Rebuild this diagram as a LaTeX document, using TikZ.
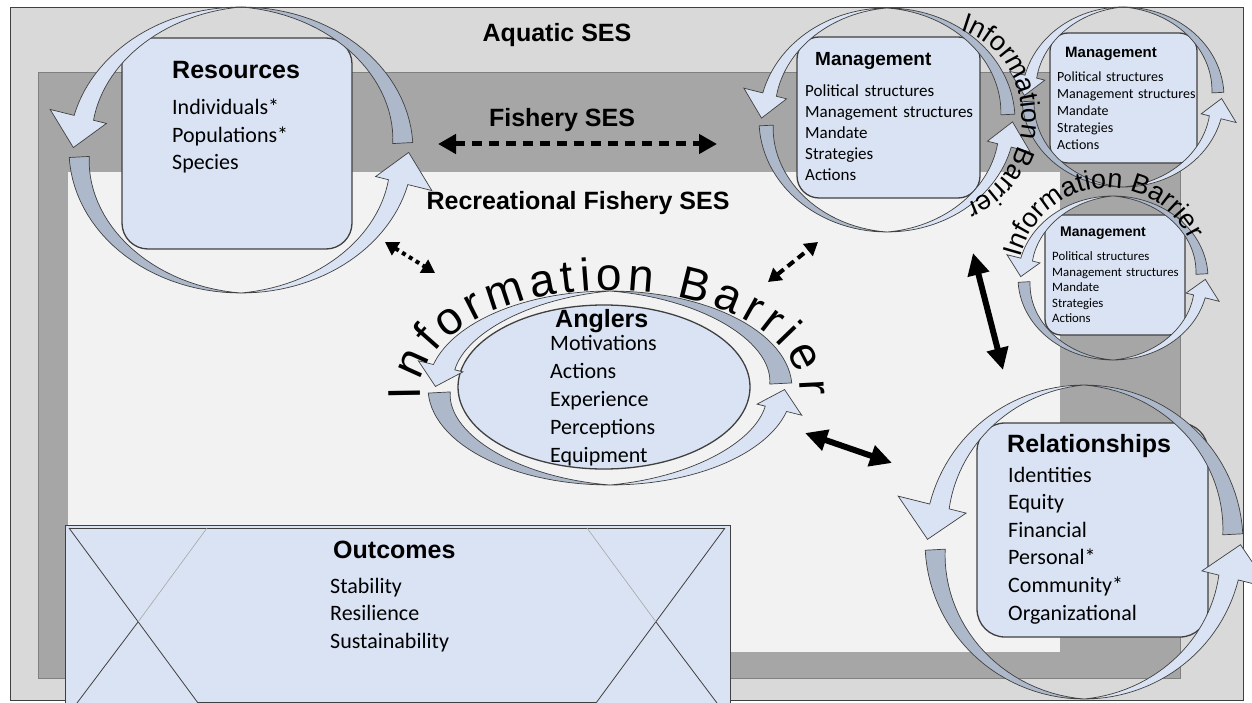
\documentclass[tikz,border=0pt]{standalone}
\usepackage{fontspec}
\setmainfont{Carlito}
\newfontfamily\arialfont{Liberation Sans}
\usepackage{tikz}
\usetikzlibrary{shapes.geometric}
\usetikzlibrary{arrows.meta}
\usetikzlibrary{decorations.text}
\definecolor{aquagray}{RGB}{217,217,217}
\definecolor{fishgray}{RGB}{166,166,166}
\definecolor{recwhite}{RGB}{242,242,242}
\definecolor{boxfill}{RGB}{218,227,243}
\definecolor{ringgray}{RGB}{173,185,202}
\definecolor{edgegray}{RGB}{64,64,64}
\tikzset{
	sysbox/.style={draw=edgegray, fill=boxfill, line width=1.3pt, inner sep=0pt},
	ringback/.style={fill=ringgray, draw=edgegray, line width=0.7pt},
	ringfront/.style={fill=boxfill, draw=edgegray, line width=0.7pt},
	sestitle/.style={anchor=base, inner sep=0pt, font=\arialfont\bfseries\fontsize{25}{30}\selectfont},
	boxtitle/.style={anchor=base west, inner sep=0pt, font=\arialfont\bfseries\fontsize{#1}{#1}\selectfont},
	itemlist/.style n args={3}{anchor=base west, inner sep=0pt, text width=#3, align=left, font=\fontsize{#1}{#2}\selectfont},
	barrier/.style={decorate, decoration={text along path, text={|\arialfont\fontsize{#1}{#1}\selectfont|Information Barrier}, text align=center}},
	dashlink/.style={line width=5pt, dash pattern=on 10pt off 7pt, {Triangle[length=18pt,width=19pt]}-{Triangle[length=18pt,width=19pt]}},
	dotlink/.style={line width=4pt, dash pattern=on 4pt off 4pt, {Triangle[length=13pt,width=15pt]}-{Triangle[length=13pt,width=15pt]}},
	solidlink/.style={line width=6pt, {Triangle[length=22pt,width=21pt]}-{Triangle[length=22pt,width=21pt]}}
}
% circular arrow pair round a box: centre x, centre y, radius x, radius y, band width, head overhang
\newcommand{\ringarrow}[6]{%
	\foreach \s in {0,180}{%
		\filldraw[ringback]
			plot[domain=\s+3:\s+90, samples=30] ({#1+#3*cos(\x)},{#2-#4*sin(\x)})
			-- plot[domain=\s+90:\s+3, samples=30] ({#1+(#3-#5*(\s+90-\x)/87)*cos(\x)},{#2-(#4-#5*(\s+90-\x)/87)*sin(\x)})
			-- cycle;
		\filldraw[ringfront]
			plot[domain=\s+90:\s+166, samples=30] ({#1+#3*cos(\x)},{#2-#4*sin(\x)})
			-- ({#1+(#3+1.3*#6)*cos(\s+166)},{#2-(#4+1.3*#6)*sin(\s+166)})
			-- ({#1+(#3-#5/2+0.3*#6)*cos(\s+179)},{#2-(#4-#5/2+0.3*#6)*sin(\s+179)})
			-- ({#1+(#3-#5-0.7*#6)*cos(\s+166)},{#2-(#4-#5-0.7*#6)*sin(\s+166)})
			-- plot[domain=\s+166:\s+90, samples=30] ({#1+(#3-#5*(\x-\s-90)/76)*cos(\x)},{#2-(#4-#5*(\x-\s-90)/76)*sin(\x)})
			-- cycle;
	}%
}

\begin{document}
\begin{tikzpicture}[x=1pt, y=-1pt]
	\useasboundingbox (0,0) rectangle (1252,703);
	\fill[white] (0,0) rectangle (1252,703);

	% nested SES frames
	\filldraw[fill=aquagray, draw=edgegray, line width=1pt] (10,8) rectangle (1243,700);
	\filldraw[fill=fishgray, draw=gray, line width=0.6pt] (38,72) rectangle (1180,678);
	\fill[recwhite] (68,172) rectangle (1060,652);

	\node[sestitle] (aquatic) at (557,42) {Aquatic SES};
	\node[sestitle] (fishery) at (562,127) {Fishery SES};
	\node[sestitle] (recreational) at (578,210) {Recreational Fishery SES};

	% outcomes panel
	\node[sysbox, line width=1pt, minimum width=665pt, minimum height=182pt] (outcomes) at (397.5,616) {};
	\draw[edgegray, line width=0.8pt] (69,528) -- (725,528);
	\draw[edgegray, line width=0.8pt] (69,528) -- (198,703);
	\draw[gray!70, line width=0.6pt] (207,528) -- (138,622);
	\draw[edgegray, line width=0.8pt] (138,622) -- (77,703);
	\draw[edgegray, line width=0.8pt] (725,528) -- (596,703);
	\draw[gray!70, line width=0.6pt] (587,528) -- (656,622);
	\draw[edgegray, line width=0.8pt] (656,622) -- (717,703);
	\draw[edgegray, line width=0.8pt] (198,702) -- (596,702);
	\node[boxtitle=25] (outtitle) at (333,558) {Outcomes};
	\node[itemlist={22}{27.5}{135pt}] (outitems) at (330,593) {Stability\\Resilience\\Sustainability};

	% system boxes
	\node[sysbox, minimum width=230pt, minimum height=211pt, rounded corners=26pt] (resources) at (237,143.5) {};
	\node[sysbox, minimum width=183pt, minimum height=161pt, rounded corners=22pt] (mgmt) at (888.5,117.5) {};
	\node[sysbox, minimum width=147pt, minimum height=130pt, rounded corners=18pt] (mgmtA) at (1123.5,98) {};
	\node[sysbox, minimum width=140pt, minimum height=120pt, rounded corners=16pt] (mgmtB) at (1115,275) {};
	\node[sysbox, minimum width=231pt, minimum height=214pt, rounded corners=28pt] (relations) at (1092.5,530) {};
	\node[sysbox, ellipse, minimum width=292pt, minimum height=164pt] (anglers) at (604,387) {};

	% feedback loops
	\ringarrow{241}{150}{172}{143}{20}{19}
	\ringarrow{887}{120}{128}{112}{14}{15}
	\ringarrow{1123}{97}{101}{90}{12}{12}
	\ringarrow{1113}{278}{95}{82}{12}{11}
	\ringarrow{1084}{542}{159}{157}{20}{25}
	\ringarrow{610}{388}{182}{97}{22}{12}

	% box contents
	\node[boxtitle=25] (restitle) at (172,79) {Resources};
	\node[itemlist={22}{27.5}{135pt}] (resitems) at (172,115) {Individuals*\\Populations*\\Species};
	\node[boxtitle=19] (mgmttitle) at (815,66) {Management};
	\node[itemlist={17}{21}{172pt}] (mgmtitems) at (805,97) {Political structures\\Management structures\\Mandate\\Strategies\\Actions};
	\node[boxtitle=15] (mgmtAtitle) at (1065,58) {Management};
	\node[itemlist={14}{16.8}{142pt}] (mgmtAitems) at (1057,82) {Political structures\\Management structures\\Mandate\\Strategies\\Actions};
	\node[boxtitle=14] (mgmtBtitle) at (1060,237) {Management};
	\node[itemlist={12.8}{15.5}{130pt}] (mgmtBitems) at (1052,261) {Political structures\\Management structures\\Mandate\\Strategies\\Actions};
	\node[boxtitle=25] (reltitle) at (1007,452) {Relationships};
	\node[itemlist={22}{27.6}{140pt}] (relitems) at (1008,482) {Identities\\Equity\\Financial\\Personal*\\Community*\\Organizational};
	\node[boxtitle=25] (angtitle) at (555,327) {Anglers};
	\node[itemlist={22}{28}{115pt}] (angitems) at (550,350) {Motivations\\Actions\\Experience\\Perceptions\\Equipment};

	% information barriers
	\path[barrier=46, decoration={text align={fit to path}}] plot[domain=184:-2, samples=80] ({610+190*cos(\x)},{392-102*sin(\x)});
	\path[barrier=27] plot[domain=80:-76, samples=60] ({940+82*cos(\x)},{118-90*sin(\x)});
	\path[barrier=27] plot[domain=176:16, samples=60] ({1108+90*cos(\x)},{278-90*sin(\x)});

	% links between the parts
	\coordinate (fishL) at (438,144);
	\coordinate (fishR) at (717,144);
	\coordinate (resend) at (385,242);
	\coordinate (angres) at (435,273);
	\coordinate (angmgmt) at (768,282);
	\coordinate (mgmtend) at (818,242);
	\coordinate (mgmtlow) at (973,253);
	\coordinate (relhigh) at (1003,370);
	\coordinate (angrel) at (805,433);
	\coordinate (relang) at (892,463);
	\draw[dashlink] (fishL) -- (fishR);
	\draw[dotlink] (resend) -- (angres);
	\draw[dashlink, line width=4pt, dash pattern=on 8pt off 5pt, {Triangle[length=13pt,width=15pt]}-{Triangle[length=13pt,width=15pt]}] (angmgmt) -- (mgmtend);
	\draw[solidlink] (mgmtlow) -- (relhigh);
	\draw[solidlink] (angrel) -- (relang);
\end{tikzpicture}
\end{document}
